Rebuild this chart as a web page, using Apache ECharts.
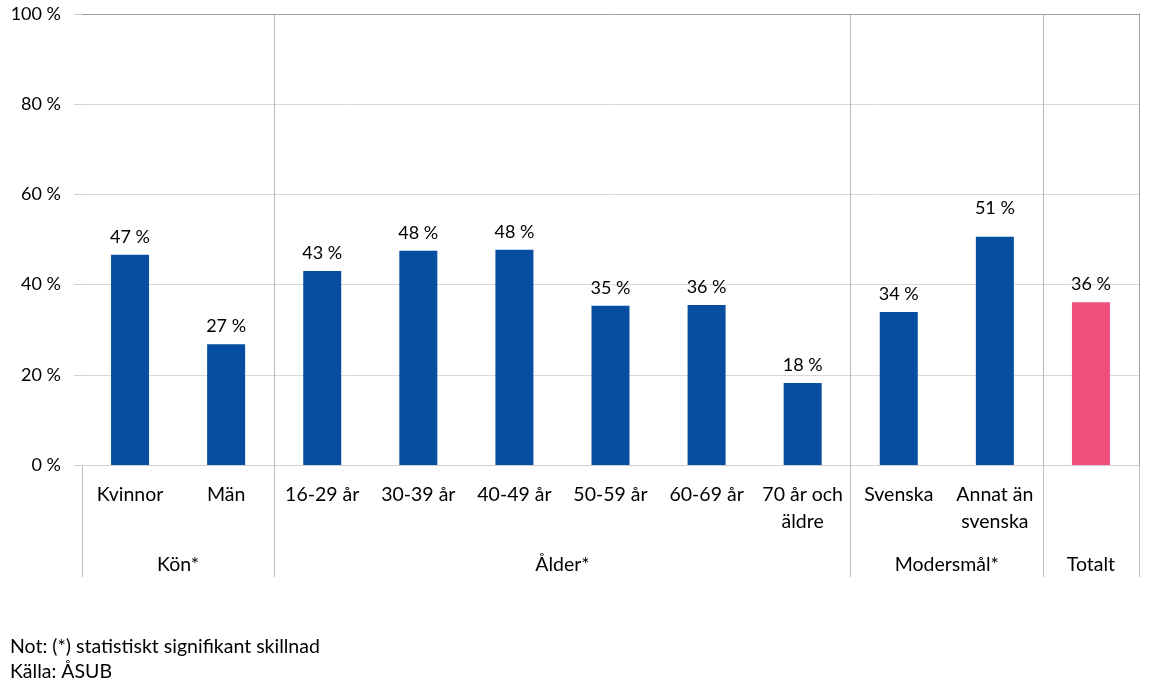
<!DOCTYPE html>
<html>
<head>
<meta charset="utf-8">
<script src="https://cdn.jsdelivr.net/npm/echarts@6/dist/echarts.min.js"></script>
<style>
  html, body { margin: 0; padding: 0; background: #fff; }
  #chart { width: 1149px; height: 690px; }
</style>
</head>
<body>
<div id="chart"></div>
<script>
// data
const categories = ['Kvinnor', 'Män', '16-29 år', '30-39 år', '40-49 år', '50-59 år', '60-69 år', '70 år och\näldre', 'Svenska', 'Annat än\nsvenska', 'Totalt']
const values = [46.6, 26.8, 43.0, 47.5, 47.7, 35.3, 35.5, 18.2, 33.9, 50.6, 36.1]
const groupNames = ['Kön*', 'Ålder*', 'Modersmål*', 'Totalt']
const groupStart = [0, 2, 8, 10]   // first category index of each group
const groupSize = [2, 6, 2, 1]
const yTicks = [0, 20, 40, 60, 80, 100]

const font = 'Lato, "Open Sans", sans-serif'
const blue = '#074ea1'
const pink = '#ef4f7b'

// group label positions on a 0..n value axis
const groupCenter = {}
groupStart.forEach((s, i) => {
    groupCenter[s + groupSize[i] / 2] = groupNames[i]
})
const boundaries = groupStart.concat([categories.length])
const last = categories.length - 1

const option = {
    animation: false,
    grid: {
        left: 82,
        right: 10,
        top: 14,
        bottom: 225
    },
    xAxis: [
        {
            type: 'category',
            data: categories,
            position: 'bottom',
            axisLine: { show: true, lineStyle: { color: '#d0d0d0' } },
            axisTick: {
                show: true,
                length: 112,
                interval: (idx) => boundaries.indexOf(idx) >= 0,
                lineStyle: { color: '#c0c0c0' }
            },
            splitLine: {
                show: true,
                interval: (idx) => idx > 0 && groupStart.indexOf(idx) >= 0,
                lineStyle: { color: '#b8b8b8' }
            },
            axisLabel: {
                interval: 0,
                margin: 16,
                fontSize: 19.5,
                lineHeight: 27,
                color: '#000',
                fontFamily: font,
                // the lone total bar is named only by its group label
                formatter: (v, i) => (i === last ? '' : v)
            }
        },
        {
            type: 'value',
            min: 0,
            max: categories.length,
            interval: 0.5,
            position: 'bottom',
            offset: 82,
            axisLine: { show: false },
            axisTick: { show: false },
            splitLine: { show: false },
            axisLabel: {
                fontSize: 19.5,
                color: '#000',
                fontFamily: font,
                showMinLabel: false,
                showMaxLabel: false,
                formatter: (v) => groupCenter[v] || ''
            }
        },
        {
            type: 'category',
            data: categories,
            position: 'top',
            axisLine: { show: true, lineStyle: { color: '#a0a0a0' } },
            axisTick: { show: false },
            axisLabel: { show: false }
        }
    ],
    yAxis: [
        {
            type: 'value',
            min: yTicks[0],
            max: yTicks[yTicks.length - 1],
            interval: 20,
            axisLine: { show: false },
            axisTick: { show: true, length: 8, lineStyle: { color: '#d0d0d0' } },
            splitLine: { show: true, lineStyle: { color: '#d9d9d9' } },
            axisLabel: {
                fontSize: 18,
                color: '#000',
                fontFamily: font,
                margin: 21,
                formatter: '{value} %'
            }
        },
        {
            type: 'value',
            position: 'right',
            min: 0,
            max: 100,
            axisLine: { show: true, lineStyle: { color: '#a0a0a0' } },
            axisTick: { show: false },
            axisLabel: { show: false },
            splitLine: { show: false }
        }
    ],
    series: [
        {
            type: 'bar',
            xAxisIndex: 0,
            yAxisIndex: 0,
            barWidth: 38,
            data: values.map((v, i) => ({
                value: v,
                itemStyle: { color: i === last ? pink : blue },
                label: i === 9 ? { distance: 20 } : undefined
            })),
            label: {
                show: true,
                position: 'top',
                distance: 9,
                fontSize: 18,
                color: '#000',
                fontFamily: font,
                formatter: (p) => Math.round(p.value) + ' %'
            }
        }
    ],
    graphic: [
        {
            type: 'text',
            left: 10,
            top: 634,
            style: {
                text: 'Not: (*) statistiskt signifikant skillnad\nKälla: ÅSUB',
                fontSize: 19.5,
                lineHeight: 25,
                fill: '#000',
                fontFamily: font
            }
        }
    ]
}

const myChart = echarts.init(document.getElementById('chart'))
myChart.setOption(option)
</script>
</body>
</html>
